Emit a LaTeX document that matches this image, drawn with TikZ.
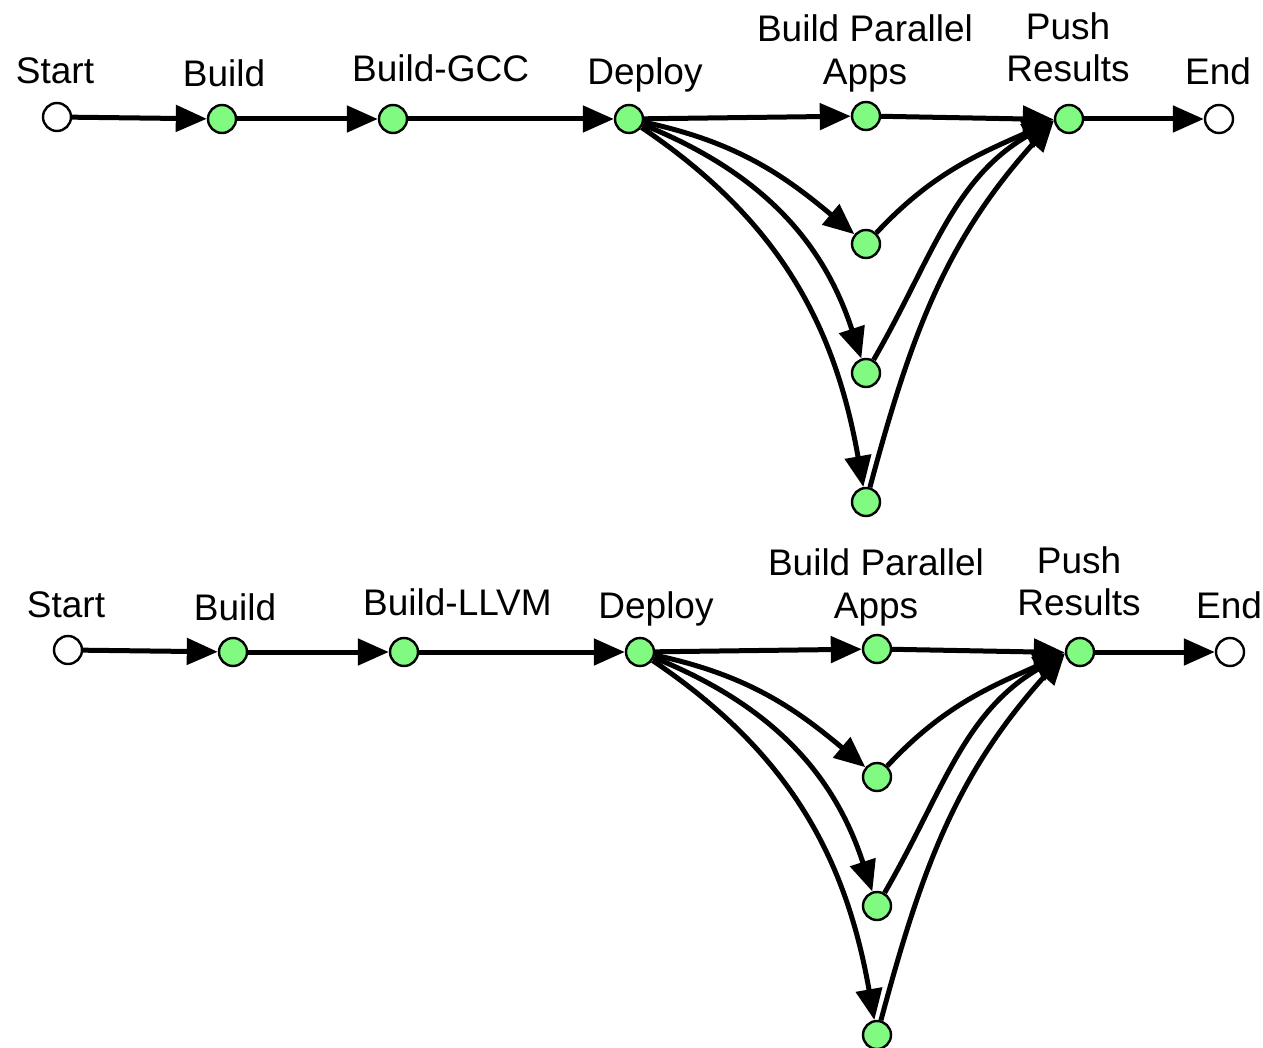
\documentclass[tikz,border=0pt]{standalone}
\usepackage{fontspec}
\setmainfont{Liberation Sans}
\usetikzlibrary{arrows.meta}

\definecolor{stagegreen}{RGB}{128,250,128}

% One pipeline: #1 node-name prefix, #2/#3 shift, #4 compiler build label, #5 label x
\newcommand\drawpipeline[5]{%
\begin{scope}[shift={(#2,#3)}]
  % stages
  \node[terminal] (#1start) at (57,117) {};
  \node[stage] (#1build)  at (222,119) {};
  \node[stage] (#1comp)   at (393,119) {};
  \node[stage] (#1deploy) at (629,119) {};
  \node[stage] (#1appa)   at (866,116) {};
  \node[stage] (#1appb)   at (866,244) {};
  \node[stage] (#1appc)   at (866,373) {};
  \node[stage] (#1appd)   at (866,502) {};
  \node[stage] (#1push)   at (1069,119) {};
  \node[terminal] (#1end) at (1219,119) {};
  % labels
  \node[lbl] (#1tstart)  at (55,84)   {Start};
  \node[lbl] (#1tbuild)  at (224,87)  {Build};
  \node[lbl,anchor=base west] (#1tcomp) at (#5,82) {#4};
  \node[lbl] (#1tdeploy) at (645,85)  {Deploy};
  \node[lbl] (#1tappa)   at (865,42)  {Build Parallel};
  \node[lbl] (#1tappb)   at (865,85)  {Apps};
  \node[lbl] (#1tpusha)  at (1068,40) {Push};
  \node[lbl] (#1tpushb)  at (1068,82) {Results};
  \node[lbl] (#1tend)    at (1218,85) {End};
  % connectors
  \draw[flow] (#1start)  -- (#1build);
  \draw[flow] (#1build)  -- (#1comp);
  \draw[flow] (#1comp)   -- (#1deploy);
  \draw[flow] (#1deploy) -- (#1appa);
  \draw[flow] (#1deploy) to[out=-12,in=140] (#1appb);
  \draw[flow] (#1deploy) to[out=-22,in=108] (#1appc);
  \draw[flow] (#1deploy) to[out=-34,in=100] (#1appd);
  \draw[flow] (#1appa)   -- (#1push.182);
  \draw[flow] (#1appb)   to[out=47,in=-156] (#1push.186);
  \draw[flow] (#1appc)   to[out=60,in=-150] (#1push.186);
  \draw[flow] (#1appd)   to[out=75,in=-132] (#1push.186);
  \draw[flow] (#1push)   -- (#1end);
\end{scope}}

\begin{document}
\begin{tikzpicture}[x=1pt,y=-1pt,
  stage/.style={circle,draw=black,line width=2.4pt,fill=stagegreen,
    minimum size=28pt,inner sep=0pt},
  terminal/.style={stage,fill=white},
  lbl/.style={anchor=base,inner sep=0pt,
    font=\fontsize{37}{42}\selectfont},
  flow/.style={line width=5pt,
    -{Triangle[length=31pt,width=26pt]}}]
  \useasboundingbox[fill=white] (0,0) rectangle (1263,1048);
  \drawpipeline{g}{0}{0}{Build-GCC}{352}
  \drawpipeline{l}{11}{533}{Build-LLVM}{352}
\end{tikzpicture}
\end{document}
